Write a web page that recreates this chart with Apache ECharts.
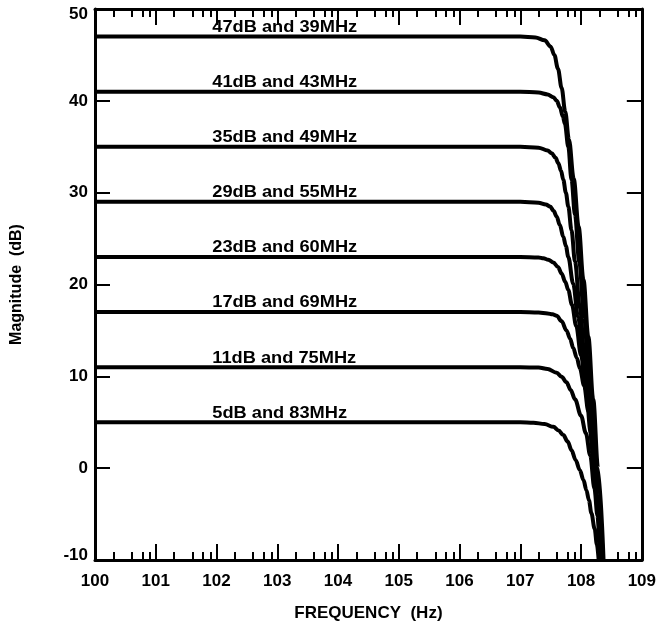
<!DOCTYPE html>
<html><head><meta charset="utf-8">
<script src="https://cdn.jsdelivr.net/npm/echarts@6/dist/echarts.min.js"></script>
<style>html,body{margin:0;padding:0;background:#fff}#c{width:659px;height:631px}</style>
</head><body><div id="c"></div>
<script>
// x values are decades: 10^x Hz ; tick labels read "10" + exponent (superscript flattened)
const decades = [0, 1, 2, 3, 4, 5, 6, 7, 8, 9];
const minorMultipliers = [2, 4, 6, 8];
const yMin = -10, yMax = 50, yStep = 10;
const curveNames = ['47dB and 39MHz', '41dB and 43MHz', '35dB and 49MHz', '29dB and 55MHz',
                    '23dB and 60MHz', '17dB and 69MHz', '11dB and 75MHz', '5dB and 83MHz'];
const curveGains = [47, 41, 35, 29, 23, 17, 11, 5];
const labelX = 1.93;

const curve47 = [[0,47],[7.0,47],[7.25,46.9],[7.40,46.6],[7.50,45.9],[7.56,45.0],[7.62,43.5],[7.68,41.4],[7.74,38.8],[7.80,35.8],[7.88,31.5],[7.96,26.3],[8.04,20.5],[8.12,14.3],[8.20,7.5],[8.28,0],[8.37,-10]];
const curve41 = [[0,41],[7.0,41],[7.3,40.9],[7.45,40.7],[7.544,40.4],[7.60,40.0],[7.652,39.3],[7.70,38.3],[7.734,37.5],[7.79,35.0],[7.843,31.4],[7.90,27.6],[7.97,22.5],[8.05,16.5],[8.13,9.8],[8.21,3],[8.28,-3],[8.36,-10]];
const curve35 = [[0,35],[7.0,35],[7.3,34.9],[7.45,34.6],[7.516,34.3],[7.58,33.8],[7.626,33.2],[7.67,32.4],[7.708,31.4],[7.75,30.0],[7.79,28.5],[7.843,25.9],[7.90,22.5],[7.98,17.5],[8.06,12],[8.14,6],[8.22,-0.5],[8.28,-5],[8.35,-10]];
const curve29 = [[0,29],[7.0,29],[7.3,28.9],[7.42,28.7],[7.49,28.5],[7.55,28.0],[7.598,27.4],[7.65,26.5],[7.708,25.2],[7.75,24.2],[7.79,23.0],[7.87,20.1],[7.95,16.5],[8.03,12.5],[8.11,7.8],[8.19,2],[8.26,-3.5],[8.34,-10]];
const curve23 = [[0,23],[7.0,23],[7.3,22.95],[7.38,22.85],[7.46,22.7],[7.544,22.4],[7.62,21.9],[7.68,21.2],[7.74,20.3],[7.79,19.4],[7.85,17.8],[7.92,15.5],[8.00,12.3],[8.08,8.5],[8.16,3.8],[8.24,-2],[8.33,-10]];
const curve17 = [[0,17],[7.0,17],[7.3,16.95],[7.45,16.85],[7.53,16.75],[7.598,16.6],[7.68,16.0],[7.76,15.0],[7.82,14.1],[7.87,13.1],[7.93,12.0],[7.98,10.9],[8.05,9.0],[8.12,6.2],[8.20,2],[8.26,-2.8],[8.32,-10]];
const curve11 = [[0,11],[7.0,11],[7.3,10.95],[7.45,10.8],[7.598,10.4],[7.68,9.95],[7.76,9.35],[7.83,8.5],[7.9,7.5],[8.0,5.7],[8.08,3.8],[8.15,1.4],[8.22,-2.2],[8.27,-5.2],[8.31,-10]];
const curve5 = [[0,5],[7.0,5],[7.217,4.95],[7.4,4.8],[7.544,4.5],[7.63,4.1],[7.708,3.6],[7.78,2.9],[7.843,1.96],[7.91,0.9],[7.979,-0.2],[8.04,-1.3],[8.088,-2.4],[8.13,-3.5],[8.17,-4.9],[8.224,-6.6],[8.26,-8.3],[8.29,-10]];
const curves = [curve47, curve41, curve35, curve29, curve23, curve17, curve11, curve5];

const minorTickValues = decades.slice(0, -1).flatMap(d => minorMultipliers.map(m => d + Math.log10(m)));

const FONT = '"Liberation Sans", Arial, sans-serif';
const chart = echarts.init(document.getElementById('c'), null, {renderer: 'canvas'});

const baseX = {
  type: 'value', min: decades[0], max: decades[decades.length - 1], interval: 1,
  splitLine: {show: false}
};
const majorTick = {show: true, inside: true, length: 16, lineStyle: {color: '#000', width: 2}};
const minorTick = {show: true, inside: true, length: 8, lineStyle: {color: '#000', width: 2}, customValues: minorTickValues};
const yLabelText = {fontSize: 17, fontWeight: 'bold', color: '#000', fontFamily: FONT};

const option = {
  animation: false,
  backgroundColor: '#fff',
  textStyle: {fontFamily: FONT},
  grid: {left: 95, right: 11, top: 9, bottom: 71, containLabel: false},
  xAxis: [
    Object.assign({}, baseX, {
      position: 'bottom',
      axisLine: {show: true, onZero: false, lineStyle: {color: '#000', width: 3}},
      axisTick: majorTick,
      axisLabel: {show: true, color: '#000', fontSize: 17, fontWeight: 'bold', margin: 13, fontFamily: FONT,
                  formatter: v => '10' + v},
      name: 'FREQUENCY  (Hz)', nameLocation: 'middle', nameGap: 45,
      nameTextStyle: {color: '#000', fontSize: 17, fontWeight: 'bold', fontFamily: FONT}
    }),
    Object.assign({}, baseX, {
      position: 'bottom',
      axisLine: {show: false, onZero: false},
      axisTick: minorTick,
      axisLabel: {show: false}
    }),
    Object.assign({}, baseX, {
      position: 'top',
      axisLine: {show: true, onZero: false, lineStyle: {color: '#000', width: 3}},
      axisTick: majorTick,
      axisLabel: {show: false}
    }),
    Object.assign({}, baseX, {
      position: 'top',
      axisLine: {show: false, onZero: false},
      axisTick: minorTick,
      axisLabel: {show: false}
    })
  ],
  yAxis: [
    {
      type: 'value', min: yMin, max: yMax, interval: yStep, position: 'left',
      splitLine: {show: false},
      axisLine: {show: true, onZero: false, lineStyle: {color: '#000', width: 3}},
      axisTick: {show: true, inside: true, length: 15, lineStyle: {color: '#000', width: 2}},
      axisLabel: {show: true, color: '#000', fontSize: 17, fontWeight: 'bold', margin: 7, fontFamily: FONT,
                  formatter: v => v === yMax ? '{hi|' + v + '}' : (v === yMin ? '{lo|' + v + '}' : String(v)),
                  rich: {
                    hi: Object.assign({padding: [10, 0, 0, 0]}, yLabelText),
                    lo: Object.assign({padding: [0, 0, 10, 0]}, yLabelText)
                  }},
      name: 'Magnitude  (dB)', nameLocation: 'middle', nameGap: 70, nameRotate: 90,
      nameTextStyle: {color: '#000', fontSize: 16, fontWeight: 'bold', fontFamily: FONT}
    },
    {
      type: 'value', min: yMin, max: yMax, interval: yStep, position: 'right',
      splitLine: {show: false},
      axisLine: {show: true, onZero: false, lineStyle: {color: '#000', width: 3}},
      axisTick: {show: true, inside: true, length: 15, lineStyle: {color: '#000', width: 2}},
      axisLabel: {show: false}
    }
  ],
  series: curves.map((c, i) => ({
    name: curveNames[i], type: 'line', data: c, xAxisIndex: 0, yAxisIndex: 0,
    showSymbol: false, symbol: 'none', smooth: 0.35, smoothMonotone: 'x',
    lineStyle: {color: '#000', width: 4}, z: 3
  }))
};
chart.setOption(option);

const labelGraphics = curveGains.map((g, i) => {
  const p = chart.convertToPixel({xAxisIndex: 0, yAxisIndex: 0}, [labelX, g]);
  return {
    type: 'text', x: p[0], y: p[1] - 9, scaleX: 1.14, z: 10,
    style: {text: curveNames[i], fill: '#000', fontSize: 16, fontWeight: 'bold', fontFamily: FONT,
            align: 'left', verticalAlign: 'middle'}
  };
});
chart.setOption({graphic: labelGraphics});
</script></body></html>
